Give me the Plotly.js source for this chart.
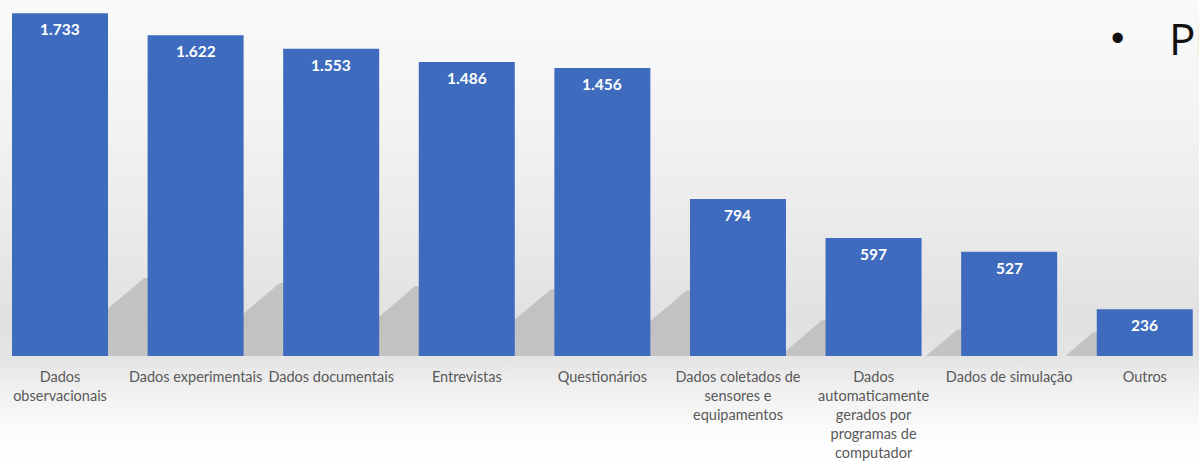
<!DOCTYPE html>
<html><head><meta charset="utf-8">
<script src="https://cdn.plot.ly/plotly-3.0.1.min.js"></script>
<style>
html,body{margin:0;padding:0;}
body{width:1199px;height:463px;overflow:hidden;background:linear-gradient(to bottom,#fafafa 0px,#f3f3f3 120px,#e9e9e9 240px,#e1e1e1 320px,#e4e4e4 356px,#efefef 385px,#fbfbfb 430px,#ffffff 463px);}
#chart{width:1199px;height:463px;}
</style></head><body><div id="chart"></div>
<script>
const categories = ["Dados observacionais","Dados experimentais","Dados documentais","Entrevistas","Questionários","Dados coletados de sensores e equipamentos","Dados automaticamente gerados por programas de computador","Dados de simulação","Outros"];
const values = [1733,1622,1553,1486,1456,794,597,527,236];
const tickLabels = ["Dados<br>observacionais","Dados experimentais","Dados documentais","Entrevistas","Questionários","Dados coletados de<br>sensores e<br>equipamentos","Dados<br>automaticamente<br>gerados por<br>programas de<br>computador","Dados de simulação","Outros"];

const idx = categories.map((c,i)=>i);
const fmt = v => String(v).replace(/\B(?=(\d{3})+(?!\d))/g,'.');

// pixel scale constants (decorative shadow geometry)
const SX = 135.6, SY = 356/1800, HALF = 0.354;
const shapes = values.map((v,i)=>{
  const hpx = 0.045*v, hd = hpx/SY;
  const topx = i + HALF + 36/SX;
  const basex = topx - (hpx/0.85)/SX;
  const rightx = i + 1;
  return {type:'path', xref:'x', yref:'y', layer:'below',
    path:`M ${basex},0 L ${topx},${hd} L ${rightx},${hd} L ${rightx},0 Z`,
    fillcolor:'rgba(110,110,110,0.28)', line:{width:0}};
});

const annotations = values.map((v,i)=>({
  x:i, y:v, xref:'x', yref:'y', text:fmt(v), showarrow:false,
  yanchor:'middle', yshift:-16,
  font:{family:'Lato, sans-serif', size:15.5, color:'#ffffff', weight:'bold'}
}));
annotations.push({xref:'paper', yref:'paper', x:1117/1199, y:1-38/356, text:'•', showarrow:false,
  xanchor:'center', yanchor:'middle', font:{family:'Liberation Sans, sans-serif', size:38, color:'#111111'}});
annotations.push({xref:'paper', yref:'paper', x:1167/1199, y:1-38/356, text:'Pl', showarrow:false,
  xanchor:'left', yanchor:'middle', font:{family:'Open Sans, sans-serif', size:44, color:'#111111'}});
annotations.push({xref:'paper', yref:'paper', x:1167/1199, y:1+17/356, text:'Co', showarrow:false,
  xanchor:'left', yanchor:'middle', font:{family:'Open Sans, sans-serif', size:44, color:'#111111'}});

const trace = {
  type:'bar', x:idx, y:values,
  marker:{color:'#3e6bbd', line:{width:0}},
  width:0.708, hoverinfo:'skip'
};

const layout = {
  width:1199, height:463,
  margin:{l:0, r:0, t:0, b:107, pad:0},
  paper_bgcolor:'rgba(0,0,0,0)', plot_bgcolor:'rgba(0,0,0,0)',
  showlegend:false,
  xaxis:{range:[-0.4425, 8.40], tickvals:idx, ticktext:tickLabels,
    showgrid:false, zeroline:false, showline:false, ticks:'outside', ticklen:8, tickcolor:'rgba(0,0,0,0)',
    tickfont:{family:'Lato, sans-serif', size:14.5, color:'#595959'}, fixedrange:true},
  yaxis:{range:[0,1800], visible:false, fixedrange:true},
  shapes:shapes, annotations:annotations
};
Plotly.newPlot('chart',[trace],layout,{displayModeBar:false, staticPlot:true});
</script></body></html>
